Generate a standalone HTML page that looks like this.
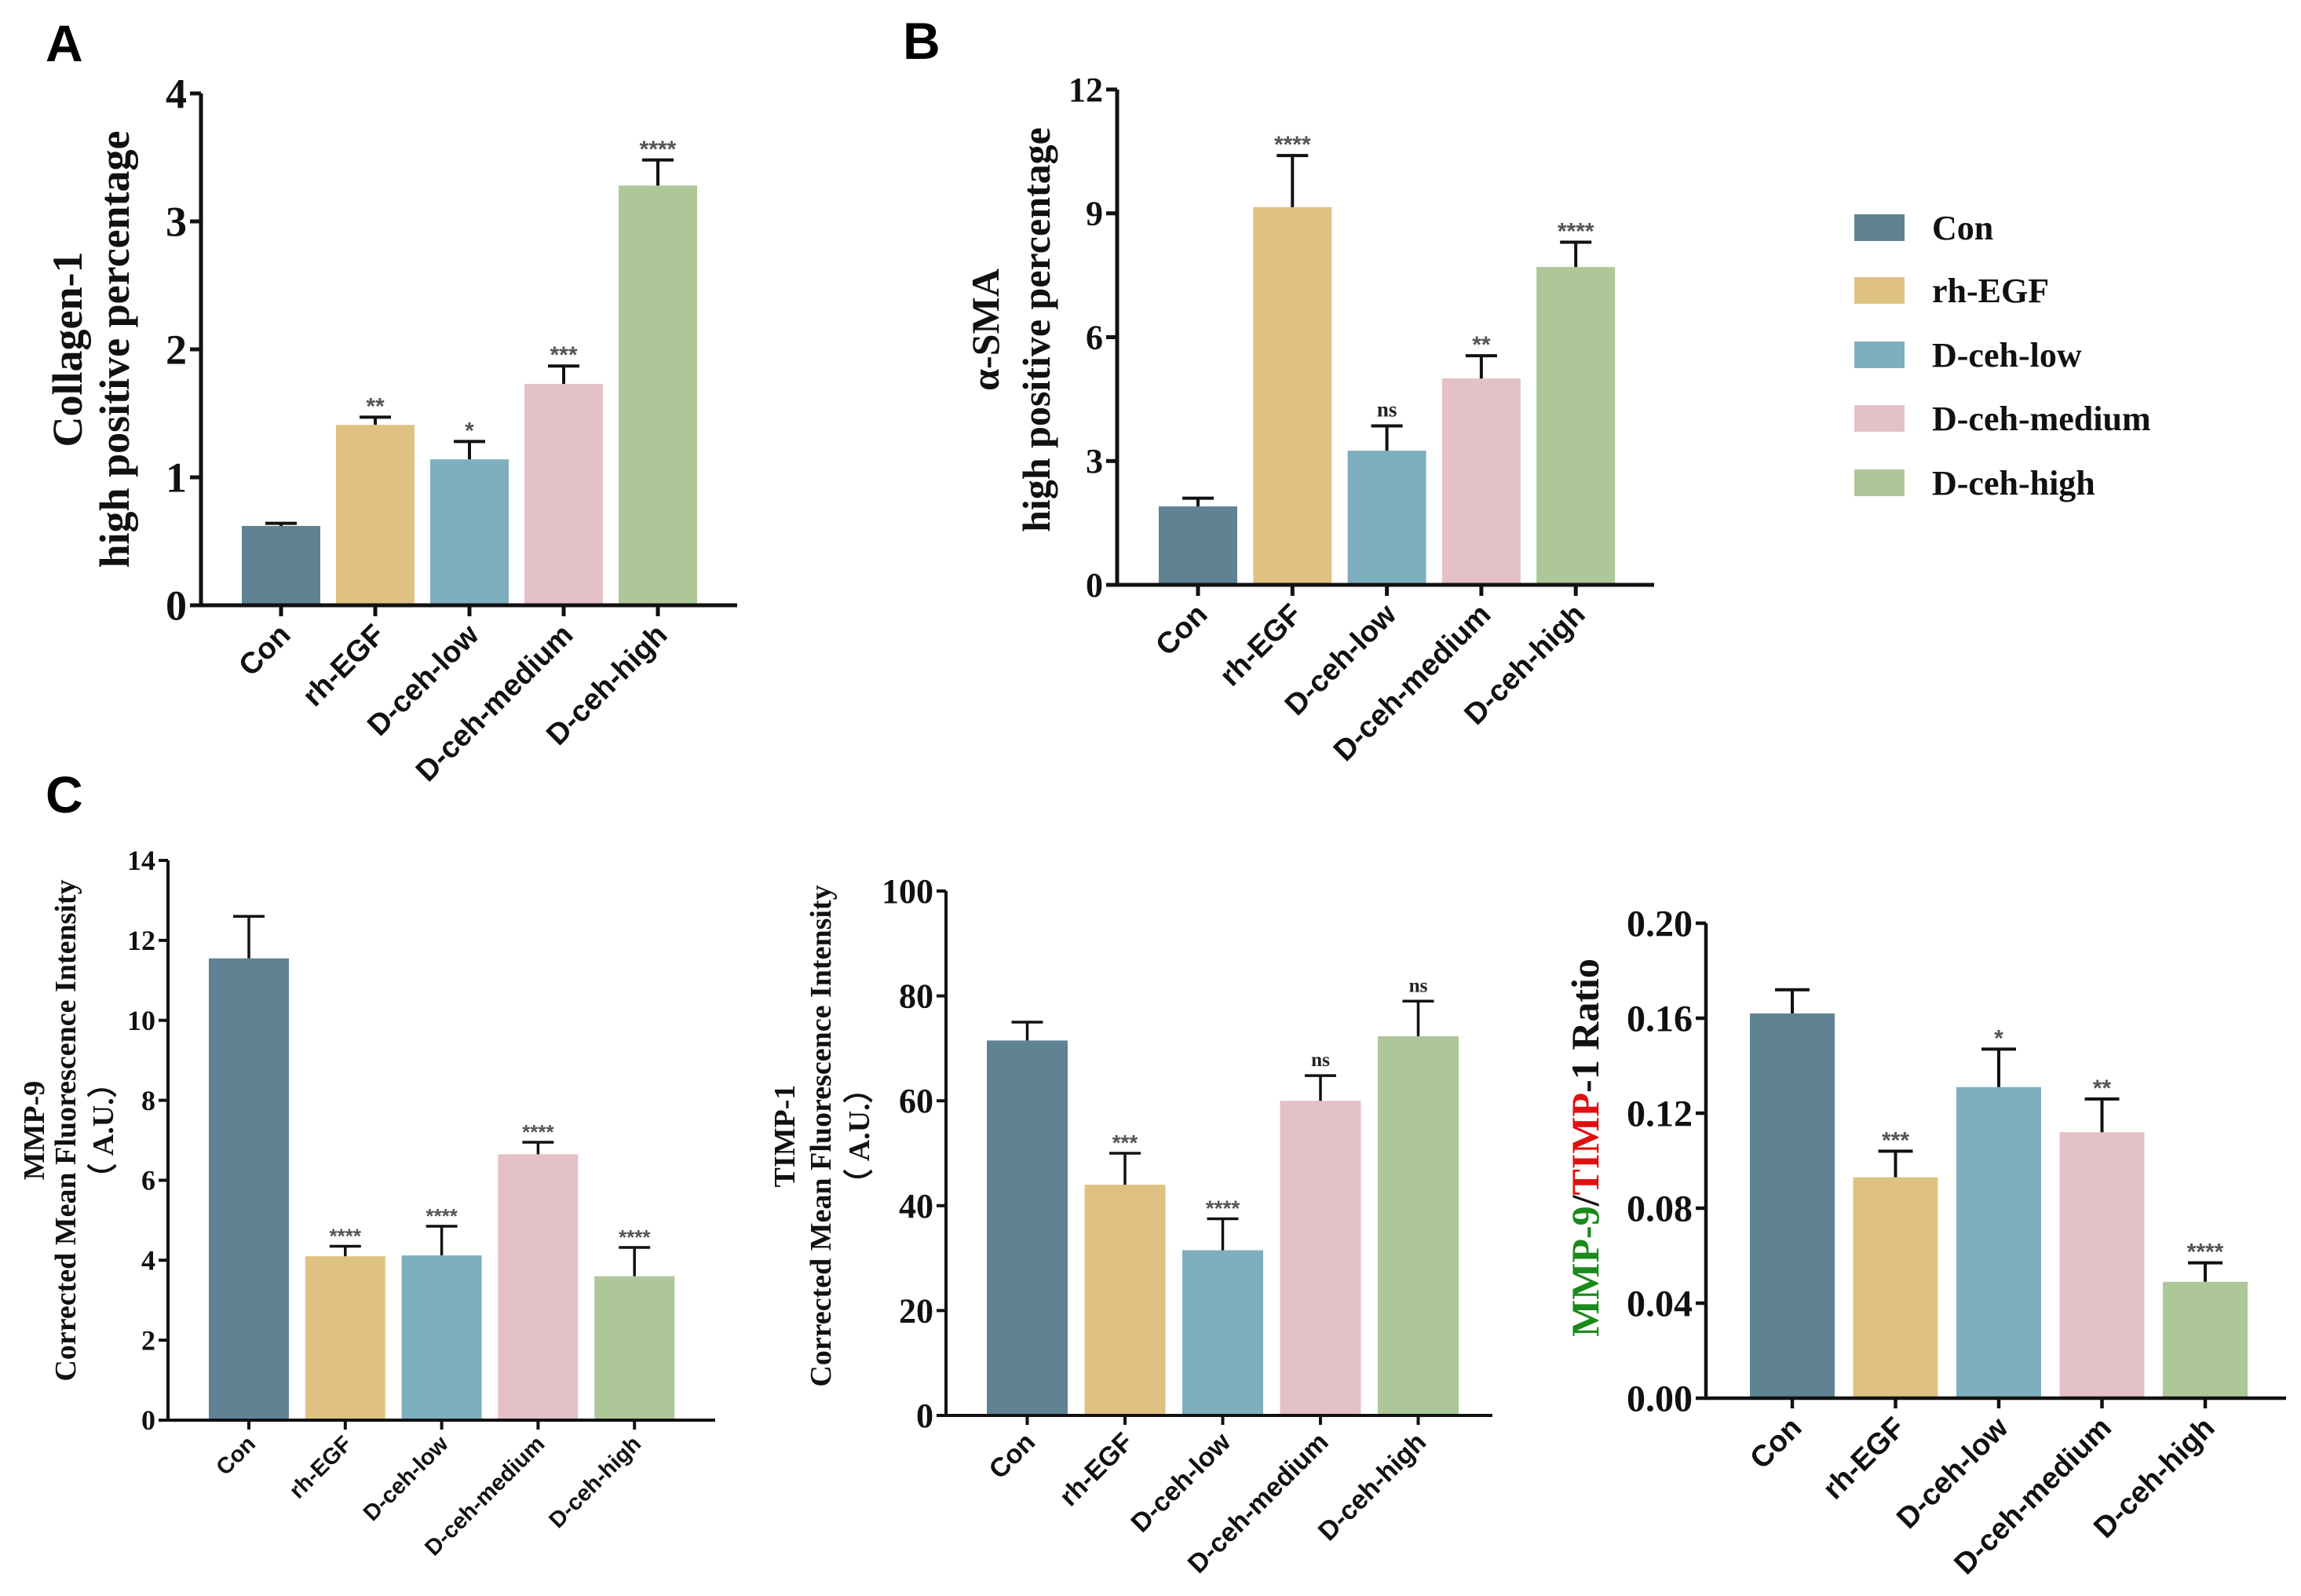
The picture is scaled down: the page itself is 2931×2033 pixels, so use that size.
<!DOCTYPE html>
<html><head><meta charset="utf-8"><style>
html,body{margin:0;padding:0;background:#fff;}
svg{display:block;}
.serif{font-family:"Liberation Serif",serif;font-weight:bold;}
.sans{font-family:"Liberation Sans",sans-serif;font-weight:bold;}
</style></head><body>
<svg id="fig" width="2931" height="2033" viewBox="0 0 2931 2033" xmlns="http://www.w3.org/2000/svg">
<text class="sans" x="58" y="78" font-size="66">A</text>
<text class="sans" x="1150" y="75" font-size="66">B</text>
<text class="sans" x="58" y="1035" font-size="66">C</text>
<g id="legend"></g>
</svg>
<script>
const categories = ["Con","rh-EGF","D-ceh-low","D-ceh-medium","D-ceh-high"];
const colors = ["#5f8393","#dfc282","#7eafbf","#e3c1c7","#adc798"];

const collagenValues = [0.62,1.41,1.14,1.73,3.28];
const collagenErrors = [0.02,0.06,0.14,0.14,0.20];
const collagenSig = ["","**","*","***","****"];
const collagenTicks = [0,1,2,3,4];

const smaValues = [1.9,9.15,3.25,5.0,7.7];
const smaErrors = [0.2,1.25,0.6,0.55,0.6];
const smaSig = ["","****","ns","**","****"];
const smaTicks = [0,3,6,9,12];

const mmpValues = [11.55,4.1,4.12,6.65,3.6];
const mmpErrors = [1.05,0.25,0.73,0.3,0.72];
const mmpSig = ["","****","****","****","****"];
const mmpTicks = [0,2,4,6,8,10,12,14];

const timpValues = [71.5,44,31.5,60,72.3];
const timpErrors = [3.5,6,6,4.8,6.7];
const timpSig = ["","***","****","ns","ns"];
const timpTicks = [0,20,40,60,80,100];

const ratioValues = [0.162,0.093,0.131,0.112,0.049];
const ratioErrors = [0.010,0.011,0.016,0.014,0.008];
const ratioSig = ["","***","*","**","****"];
const ratioTicks = ["0.00","0.04","0.08","0.12","0.16","0.20"];

const NS="http://www.w3.org/2000/svg";
const svg=document.getElementById('fig');
function mk(tag,attrs,parent,text){const e=document.createElementNS(NS,tag);for(const k in attrs)e.setAttribute(k,attrs[k]);if(text!==undefined)e.textContent=text;(parent||svg).appendChild(e);return e;}

function drawPanel(p){
  const g=mk('g',{});
  
  
  const ymax=parseFloat(p.ticks[p.ticks.length-1]);
  const Y=v=>p.y0-(v/ymax)*(p.y0-p.ytop);
  const X=i=>p.x1+i*p.step;
  // bars
  p.values.forEach((v,i)=>{
    const r=mk('rect',{x:X(i),y:Y(v),width:p.bw,height:p.y0-Y(v),fill:colors[i]},g);
    
    
    const cx=X(i)+p.bw/2, top=Y(v+p.errors[i]);
    const eb=mk('path',{d:`M${cx},${Y(v)}V${top}M${cx-p.cap},${top}H${cx+p.cap}`,stroke:'#111','stroke-width':p.ew,fill:'none'},g);
    
    
    if(p.sig[i]){
      const isNs=p.sig[i]==='ns';
      const t=mk('text',{x:cx,y:top-(isNs?12:4),'text-anchor':'middle','font-size':isNs?p.sigF*0.9:p.sigF,fill:isNs?'#222':'#555',class:isNs?'serif':'sans'},g,p.sig[i]);
      
      
    }
    // x tick
    mk('line',{x1:cx,y1:p.y0,x2:cx,y2:p.y0+p.tl,stroke:'#111','stroke-width':p.aw},g);
    const lab=mk('text',{x:cx+p.lx,y:p.y0+p.ly,'text-anchor':'end','font-size':p.xf,class:'sans',fill:'#111',transform:`rotate(-45 ${cx+p.lx} ${p.y0+p.ly})`},g,categories[i]);
    
    
  });
  // axes
  const ax=mk('path',{d:`M${p.ax},${p.ytop}V${p.y0}H${p.xend}`,stroke:'#111','stroke-width':p.aw,fill:'none'},g);
  
  
  p.ticks.forEach(t=>{
    const y=Y(parseFloat(t));
    mk('line',{x1:p.ax-p.tl,y1:y,x2:p.ax,y2:y,stroke:'#111','stroke-width':p.aw},g);
    const tt=mk('text',{x:p.ax-p.tl-4,y:y+p.tf*0.34,'text-anchor':'end','font-size':p.tf,class:'serif',fill:'#111'},g,t);
    
    
  });
  // y title
  p.title.forEach((ln,k)=>{
    const x=p.tx[k];
    const t=mk('text',{x:x,y:p.tcy,'text-anchor':'middle','dominant-baseline':'central','font-size':p.titf,class:'serif',fill:'#111',transform:`rotate(-90 ${x} ${p.tcy})`},g);
    if(typeof ln==='string'){t.textContent=ln;}
    else ln.forEach(s=>{mk('tspan',{fill:s[1]},t,s[0]);});
    
    
  });
}

drawPanel({name:'panel-a-collagen-chart',values:collagenValues,errors:collagenErrors,sig:collagenSig,ticks:collagenTicks,
  ax:256,ytop:119,y0:771,xend:939,x1:308,step:120,bw:100,cap:20,ew:4,aw:5,tl:14,tf:54,xf:38,lx:14,ly:40,sigF:30,
  title:["Collagen-1","high positive percentage"],tx:[86,146],tcy:445,titf:54});
drawPanel({name:'panel-b-sma-chart',values:smaValues,errors:smaErrors,sig:smaSig,ticks:smaTicks,
  ax:1423,ytop:114,y0:745,xend:2107,x1:1476,step:120.3,bw:100,cap:20,ew:4,aw:5,tl:14,tf:44,xf:38,lx:14,ly:40,sigF:30,
  title:["α-SMA","high positive percentage"],tx:[1255,1320],tcy:420,titf:50});
drawPanel({name:'panel-c-mmp9-chart',values:mmpValues,errors:mmpErrors,sig:mmpSig,ticks:mmpTicks,
  ax:214,ytop:1096,y0:1809,xend:911,x1:266,step:122.8,bw:102,cap:20,ew:3.5,aw:4,tl:12,tf:36,xf:29,lx:10,ly:32,sigF:26,
  title:["MMP-9","Corrected Mean Fluorescence Intensity","（ A.U.）"],tx:[44,84,132],tcy:1440,titf:38});
drawPanel({name:'panel-c-timp1-chart',values:timpValues,errors:timpErrors,sig:timpSig,ticks:timpTicks,
  ax:1205,ytop:1135,y0:1803,xend:1901,x1:1257,step:124.5,bw:103,cap:20,ew:3.5,aw:4,tl:12,tf:44,xf:34,lx:12,ly:36,sigF:28,
  title:["TIMP-1","Corrected Mean Fluorescence Intensity","（ A.U.）"],tx:[1000,1046,1095],tcy:1447,titf:38});
drawPanel({name:'panel-c-ratio-chart',values:ratioValues,errors:ratioErrors,sig:ratioSig,ticks:ratioTicks,
  ax:2173,ytop:1176,y0:1781,xend:2912,x1:2229,step:131.5,bw:108,cap:22,ew:4,aw:4.5,tl:13,tf:48,xf:38,lx:14,ly:40,sigF:30,
  title:[[["MMP-9","#1a8a1a"],["/","#111"],["TIMP","#e01010"],["-1 Ratio","#111"]]],tx:[2019],tcy:1462,titf:50});

// legend
const leg=document.getElementById('legend');
const legendY=[290,370,452,533,615];
categories.forEach((c,i)=>{
  const r=mk('rect',{x:2362,y:legendY[i]-17,width:64,height:34,fill:colors[i]},leg);
  
  
  const t=mk('text',{x:2461,y:legendY[i]+15,'font-size':44,class:'serif',fill:'#111'},leg,c);
  
  
});
</script>
</body></html>
